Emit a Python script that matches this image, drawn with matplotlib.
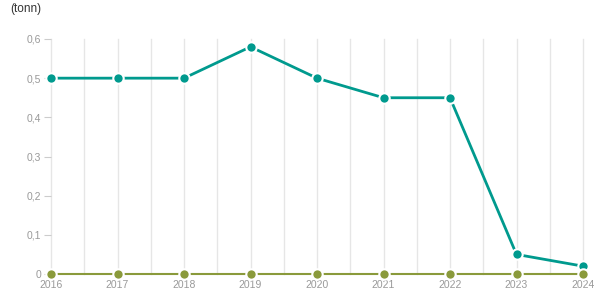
import matplotlib.pyplot as plt
import matplotlib.ticker as ticker
import numpy as np

plt.rcParams['font.family'] = ['Liberation Sans', 'DejaVu Sans']

years = [2016, 2017, 2018, 2019, 2020, 2021, 2022, 2023, 2024]
teal_values = [0.5, 0.5, 0.5, 0.58, 0.5, 0.45, 0.45, 0.05, 0.02]
olive_values = [0, 0, 0, 0, 0, 0, 0, 0, 0]
y_ticks = [0, 0.1, 0.2, 0.3, 0.4, 0.5, 0.6]

fig = plt.figure(figsize=(6.15, 3.05), dpi=100)
ax = fig.add_axes([51 / 615, 1 - 274 / 305, (583 - 51) / 615, (274 - 39) / 305])

# vertical grid at each year and halfway between
x_grid = np.arange(years[0], years[-1] + 0.01, 0.5)
for xg in x_grid:
    ax.axvline(xg, color='#e6e6e6', linewidth=1, zorder=0, clip_on=False)

ax.plot(years, teal_values, color='#009a8e', linewidth=2, marker='o', markersize=7.5,
        markeredgecolor='white', markeredgewidth=1.5, zorder=3, clip_on=False)
ax.plot(years, olive_values, color='#8a9a3b', linewidth=1.5, marker='o', markersize=7.5,
        markeredgecolor='white', markeredgewidth=1.5, zorder=4, clip_on=False)

ax.set_xlim(years[0], years[-1])
ax.set_ylim(0, 0.6)
ax.set_xticks(years)
ax.set_yticks(y_ticks)


def komma(value, _):
    if value == 0:
        return '0'
    return f'{value:.1f}'.replace('.', ',')


ax.yaxis.set_major_formatter(ticker.FuncFormatter(komma))

for side in ['top', 'right', 'bottom', 'left']:
    ax.spines[side].set_visible(False)

ax.tick_params(axis='y', length=5, color='#cccccc', labelsize=7.5, labelcolor='#999999', pad=2)
ax.tick_params(axis='x', length=0, labelsize=7.5, labelcolor='#999999', pad=4)

fig.text(10 / 615, 1 - 9 / 305, '(tonn)', fontsize=8.5, color='#333333', va='center', ha='left')

plt.savefig('out.png', dpi=100)
